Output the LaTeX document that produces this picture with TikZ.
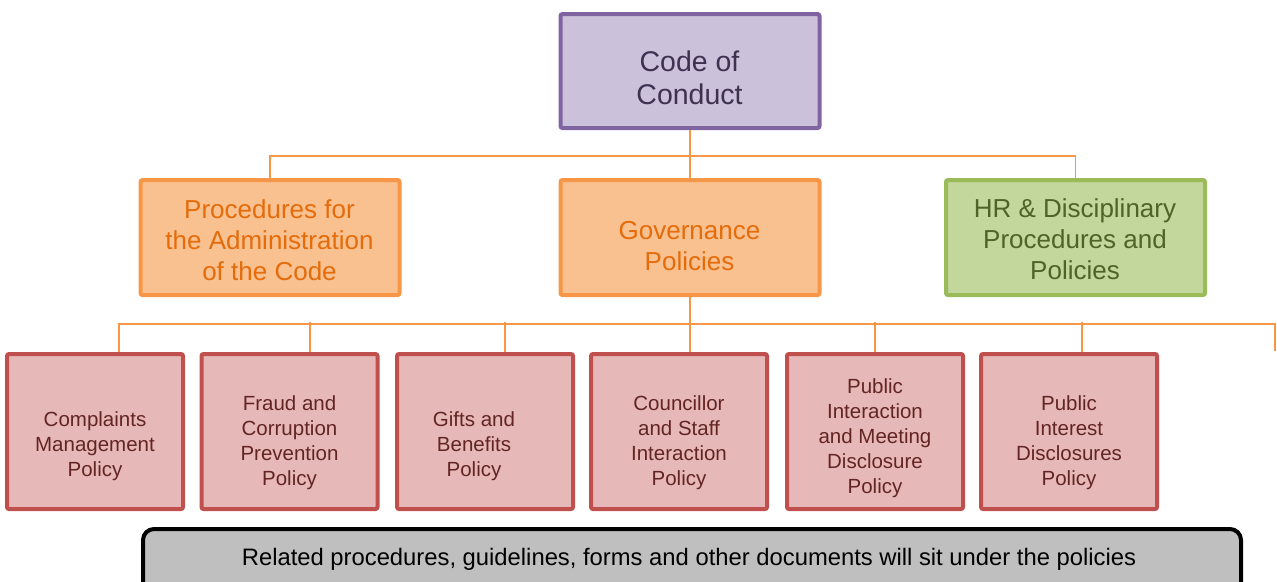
\documentclass[tikz,border=0pt]{standalone}
\usepackage{fontspec}
\setmainfont{Liberation Sans}
\definecolor{purF}{HTML}{CCC1DA}
\definecolor{purD}{HTML}{8064A2}
\definecolor{purT}{HTML}{3F3151}
\definecolor{orF}{HTML}{F9C090}
\definecolor{orD}{HTML}{F79646}
\definecolor{orT}{HTML}{E46C0A}
\definecolor{grF}{HTML}{C3D69B}
\definecolor{grD}{HTML}{9BBB59}
\definecolor{grT}{HTML}{4F6228}
\definecolor{rdF}{HTML}{E6B9B8}
\definecolor{rdD}{HTML}{C0504D}
\definecolor{rdT}{HTML}{632523}
\definecolor{gyF}{HTML}{BFBFBF}
\begin{document}
\begin{tikzpicture}[x=1pt,y=-1pt,
  box/.style={draw, line width=4pt, rounded corners=2pt, inner sep=0pt},
  topbox/.style={box, fill=purF, draw=purD, minimum width=259pt, minimum height=114pt},
  lvtwo/.style={box, minimum width=259pt, minimum height=115pt},
  orbox/.style={lvtwo, fill=orF, draw=orD},
  grbox/.style={lvtwo, fill=grF, draw=grD},
  pol/.style={box, fill=rdF, draw=rdD, minimum width=176pt, minimum height=155pt},
  conn/.style={draw=orD, line width=1.6pt},
  ttop/.style={align=center, text=purT, font=\fontsize{28.5}{33}\selectfont},
  ttwo/.style={align=center, font=\fontsize{26}{31}\selectfont},
  tpol/.style={align=center, text=rdT, font=\fontsize{20.5}{25}\selectfont},
]
\useasboundingbox (0,0) rectangle (1277,581);
\clip (0,0) rectangle (1277,581);

% boxes
\node[topbox] (top) at (690,71) {};
\node[orbox] (proc) at (270,237.5) {};
\node[orbox] (gov) at (690,237.5) {};
\node[grbox] (hr) at (1075.5,237.5) {};

\node[pol] (c1) at (95,431.5) {};
\node[pol] (c2) at (289.5,431.5) {};
\node[pol] (c3) at (485,431.5) {};
\node[pol] (c4) at (679,431.5) {};
\node[pol] (c5) at (875,431.5) {};
\node[pol] (c6) at (1069,431.5) {};

\node[draw=black, line width=4pt, rounded corners=11pt, fill=gyF,
      minimum width=1098pt, minimum height=70pt, inner sep=0pt] (rel) at (692,564) {};

% texts
\node[ttop] (ttop) at (689.5,78) {Code of\\Conduct};
\node[ttwo, text=orT] (tproc) at (269.5,240.5) {Procedures for\\the Administration\\of the Code};
\node[ttwo, text=orT] (tgov) at (689.5,246) {Governance\\Policies};
\node[ttwo, text=grT] (thr) at (1075,239.5) {HR \& Disciplinary\\Procedures and\\Policies};

\node[tpol] (t1) at (95,446.5) {Complaints\\Management\\Policy};
\node[tpol] (t2) at (289.5,443) {Fraud and\\Corruption\\Prevention\\Policy};
\node[tpol] (t3) at (474,446.5) {Gifts and\\Benefits\\Policy};
\node[tpol] (t4) at (679,443) {Councillor\\and Staff\\Interaction\\Policy};
\node[tpol] (t5) at (875,438.5) {Public\\Interaction\\and Meeting\\Disclosure\\Policy};
\node[tpol] (t6) at (1069,443) {Public\\Interest\\Disclosures\\Policy};

\node[font=\fontsize{23.8}{28}\selectfont] (trel) at (689,559.5) {Related procedures, guidelines, forms and other documents will sit under the policies};

% connectors
\coordinate (bus1) at (690,156);
\coordinate (endR) at (1275,351);
\draw[conn] (top.south) -- (gov.north);
\draw[conn] (proc.north) |- (bus1) -| (hr.north);
\draw[conn] (gov.south) -- (gov.south |- 0,324);
\draw[conn] ([xshift=24pt]c1.north) |- (endR |- 0,324) -- (endR);
\draw[conn] ([xshift=20.5pt]c2.north) -- ++(0,-30);
\draw[conn] ([xshift=20pt]c3.north) -- ++(0,-30);
\draw[conn] ([xshift=11pt]c4.north) -- ++(0,-30);
\draw[conn] (c5.north) -- ++(0,-30);
\draw[conn] ([xshift=13pt]c6.north) -- ++(0,-30);
\end{tikzpicture}
\end{document}
